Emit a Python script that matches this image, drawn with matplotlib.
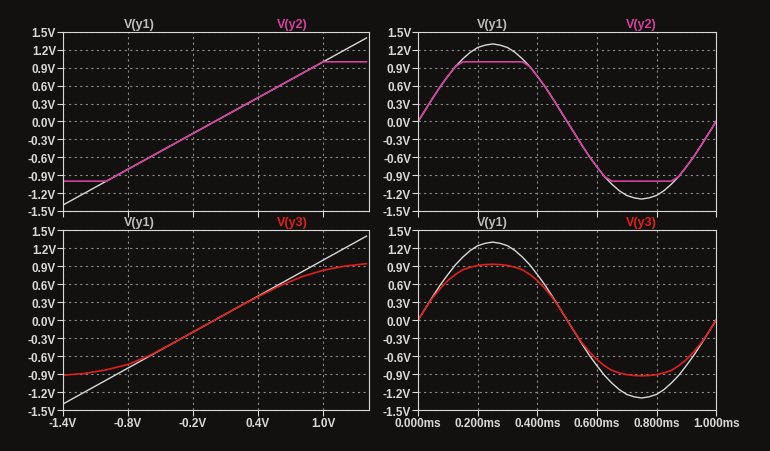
import numpy as np
import matplotlib.pyplot as plt

plt.rcParams['font.family'] = ['Liberation Sans', 'DejaVu Sans']

# DC sweep (transfer curves)
vin = [-1.4, -1.2, -1.0, -0.8, -0.6, -0.4, -0.2, 0.0, 0.2, 0.4, 0.6, 0.8, 1.0, 1.2, 1.4]
y1_dc = [-1.4, -1.2, -1.0, -0.8, -0.6, -0.4, -0.2, 0.0, 0.2, 0.4, 0.6, 0.8, 1.0, 1.2, 1.4]
y2_dc = [-1.0, -1.0, -1.0, -0.8, -0.6, -0.4, -0.2, 0.0, 0.2, 0.4, 0.6, 0.8, 1.0, 1.0, 1.0]
y3_dc = [-0.92, -0.89, -0.83, -0.74, -0.59, -0.40, -0.20, 0.0, 0.20, 0.39, 0.57, 0.72, 0.83, 0.90, 0.94]

# transient (time in ms)
t_ms = [0.0, 0.025, 0.05, 0.075, 0.10, 0.125, 0.15, 0.175, 0.20, 0.225, 0.25,
        0.275, 0.30, 0.325, 0.35, 0.375, 0.40, 0.425, 0.45, 0.475, 0.50,
        0.525, 0.55, 0.575, 0.60, 0.625, 0.65, 0.675, 0.70, 0.725, 0.75,
        0.775, 0.80, 0.825, 0.85, 0.875, 0.90, 0.925, 0.95, 0.975, 1.0]
y1_tr = [0.0, 0.20, 0.40, 0.59, 0.76, 0.92, 1.05, 1.16, 1.24, 1.28, 1.30,
         1.28, 1.24, 1.16, 1.05, 0.92, 0.76, 0.59, 0.40, 0.20, 0.0,
         -0.20, -0.40, -0.59, -0.76, -0.92, -1.05, -1.16, -1.24, -1.28, -1.30,
         -1.28, -1.24, -1.16, -1.05, -0.92, -0.76, -0.59, -0.40, -0.20, 0.0]
y2_tr = [0.0, 0.20, 0.40, 0.59, 0.76, 0.92, 1.0, 1.0, 1.0, 1.0, 1.0,
         1.0, 1.0, 1.0, 1.0, 0.92, 0.76, 0.59, 0.40, 0.20, 0.0,
         -0.20, -0.40, -0.59, -0.76, -0.92, -1.0, -1.0, -1.0, -1.0, -1.0,
         -1.0, -1.0, -1.0, -1.0, -0.92, -0.76, -0.59, -0.40, -0.20, 0.0]
y3_tr = [0.0, 0.20, 0.38, 0.53, 0.66, 0.76, 0.84, 0.88, 0.91, 0.925, 0.93,
         0.925, 0.91, 0.88, 0.84, 0.76, 0.66, 0.53, 0.38, 0.20, 0.0,
         -0.20, -0.38, -0.53, -0.66, -0.76, -0.84, -0.88, -0.91, -0.925, -0.93,
         -0.925, -0.91, -0.88, -0.84, -0.76, -0.66, -0.53, -0.38, -0.20, 0.0]

yticks = np.arange(-1.5, 1.51, 0.3)
bg = '#121110'
fg = '#d8d8d8'
magenta = '#d2409c'
red = '#e0201c'

fig = plt.figure(figsize=(7.7, 4.52), dpi=100, facecolor=bg)

def make_ax(rect, xlim, xticks, xlabels, show_x, name2, col2):
    ax = fig.add_axes(rect, facecolor=bg)
    ax.set_xlim(*xlim)
    ax.set_ylim(-1.5, 1.5)
    ax.set_yticks(yticks)
    ax.set_yticklabels([f'{v:.1f}V' for v in yticks])
    ax.set_xticks(xticks)
    if show_x:
        ax.set_xticklabels(xlabels)
    else:
        ax.tick_params(axis='x', length=0)
        ax.set_xticklabels([])
    for s in ax.spines.values():
        s.set_color(fg)
    ax.tick_params(colors=fg, labelsize=8.5, direction='out', length=4, pad=1)
    for lab in ax.get_xticklabels() + ax.get_yticklabels():
        lab.set_fontweight('bold')
    ax.grid(True, color='#8a8a8a', linestyle=(0, (2, 3)), linewidth=0.8)
    ax.text(0.25, 1.01, 'V(y1)', transform=ax.transAxes, ha='center', va='bottom',
            color='#bdbdbd', fontsize=9, fontweight='bold')
    ax.text(0.75, 1.01, name2, transform=ax.transAxes, ha='center', va='bottom',
            color=col2, fontsize=9, fontweight='bold')
    return ax

dc_ticks = [-1.4, -0.8, -0.2, 0.4, 1.0]
dc_labels = ['-1.4V', '-0.8V', '-0.2V', '0.4V', '1.0V']
tr_ticks = [0.0, 0.2, 0.4, 0.6, 0.8, 1.0]
tr_labels = ['0.000ms', '0.200ms', '0.400ms', '0.600ms', '0.800ms', '1.000ms']

ax1 = make_ax([0.0818, 0.531, 0.397, 0.396], (-1.4, 1.42), dc_ticks, dc_labels, False, 'V(y2)', magenta)
ax1.plot(vin, y1_dc, color=fg, lw=1)
ax1.plot(vin, y2_dc, color=magenta, lw=1.2)

ax2 = make_ax([0.543, 0.531, 0.387, 0.396], (0, 1.0), tr_ticks, tr_labels, False, 'V(y2)', magenta)
ax2.plot(t_ms, y1_tr, color=fg, lw=1)
ax2.plot(t_ms, y2_tr, color=magenta, lw=1.2)

ax3 = make_ax([0.0818, 0.0907, 0.397, 0.398], (-1.4, 1.42), dc_ticks, dc_labels, True, 'V(y3)', red)
ax3.plot(vin, y1_dc, color=fg, lw=1)
ax3.plot(vin, y3_dc, color=red, lw=1.2)

ax4 = make_ax([0.543, 0.0907, 0.387, 0.398], (0, 1.0), tr_ticks, tr_labels, True, 'V(y3)', red)
ax4.plot(t_ms, y1_tr, color=fg, lw=1)
ax4.plot(t_ms, y3_tr, color=red, lw=1.2)

fig.savefig('out.png', dpi=100, facecolor=bg)
